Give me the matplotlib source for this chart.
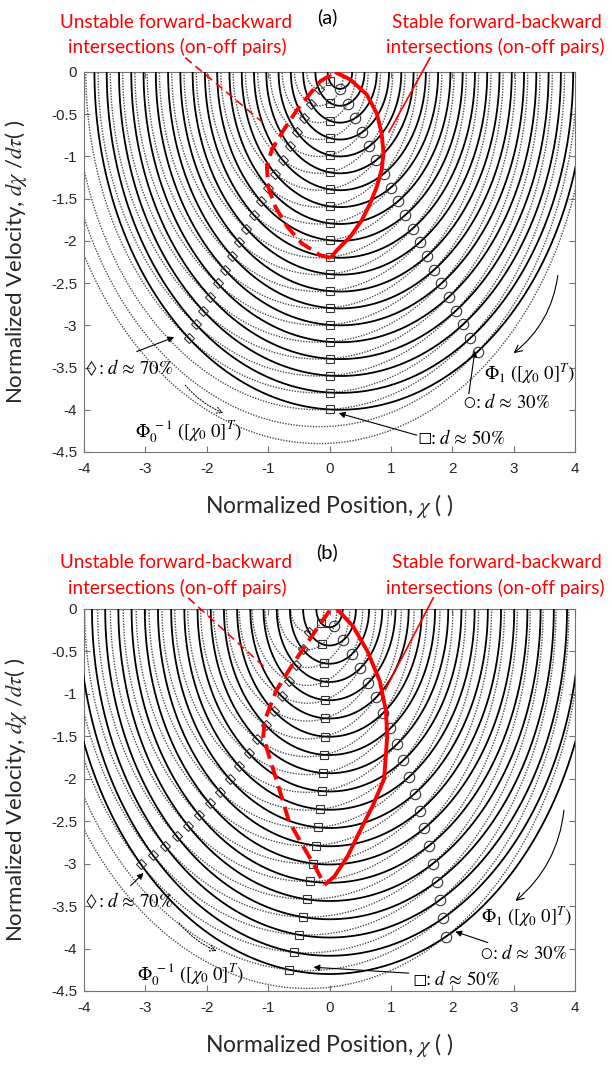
import numpy as np
import matplotlib
matplotlib.use("Agg")
import matplotlib.pyplot as plt
from matplotlib.patches import FancyArrowPatch

plt.rcParams["mathtext.fontset"] = "stix"
plt.rcParams["font.family"] = ["Liberation Sans", "DejaVu Sans"]

# ---------------- axis ticks ----------------
x_ticks = [-4, -3, -2, -1, 0, 1, 2, 3, 4]
x_tick_labels = ["-4", "-3", "-2", "-1", "0", "1", "2", "3", "4"]
y_ticks = [-4.5, -4, -3.5, -3, -2.5, -2, -1.5, -1, -0.5, 0]
y_tick_labels = ["-4.5", "-4", "-3.5", "-3", "-2.5", "-2", "-1.5", "-1", "-0.5", "0"]

# ---------------- panel (a) ----------------
# on-state (forward, Phi_1) and off-state (backward, Phi_0^-1) orbits
on_center_a = 0.17
off_center_a = -0.17
on_radius_a = [0.2, 0.4, 0.6, 0.8, 1.0, 1.2, 1.4, 1.6, 1.8, 2.0,
               2.2, 2.4, 2.6, 2.8, 3.0, 3.2, 3.4, 3.6, 3.8, 4.0]
off_radius_a = [0.2, 0.4, 0.6, 0.8, 1.0, 1.2, 1.4, 1.6, 1.8, 2.0, 2.2,
                2.4, 2.6, 2.8, 3.0, 3.2, 3.4, 3.6, 3.8, 4.0, 4.2, 4.4]

stable_a_x = [0.09, 0.34, 0.61, 0.77, 0.85, 0.88, 0.85, 0.77, 0.66, 0.53, 0.34, 0.12, 0.02]
stable_a_y = [0.0, -0.09, -0.27, -0.49, -0.73, -0.96, -1.16, -1.36, -1.56, -1.75, -1.95, -2.11, -2.2]
unstable_a_x = [0.01, -0.15, -0.31, -0.53, -0.75, -0.94, -1.02, -1.0, -0.88, -0.69, -0.45, -0.15, 0.02]
unstable_a_y = [-0.04, -0.11, -0.25, -0.45, -0.69, -0.92, -1.12, -1.36, -1.6, -1.83, -2.03, -2.17, -2.2]

# ---------------- panel (b) ----------------
on_center_b = 0.0
off_center_b = -0.36
on_radius_b = [0.215, 0.43, 0.645, 0.86, 1.075, 1.29, 1.505, 1.72, 1.935, 2.15,
               2.365, 2.58, 2.795, 3.01, 3.225, 3.44, 3.655, 3.87, 4.085, 4.3]
off_radius_b = [0.27, 0.48, 0.69, 0.90, 1.11, 1.32, 1.53, 1.74, 1.95, 2.16, 2.37,
                2.58, 2.79, 3.00, 3.21, 3.42, 3.63, 3.84, 4.05, 4.26, 4.47]

stable_b_x = [0.12, 0.38, 0.62, 0.82, 0.92, 0.94, 0.91, 0.89, 0.71, 0.5, 0.29, 0.08, -0.08]
stable_b_y = [0.0, -0.2, -0.5, -0.85, -1.2, -1.5, -1.8, -2.0, -2.31, -2.61, -2.92, -3.15, -3.25]
unstable_b_x = [0.0, -0.26, -0.59, -0.86, -1.05, -1.08, -0.97, -0.87, -0.66, -0.45, -0.24, -0.08]
unstable_b_y = [-0.02, -0.29, -0.64, -0.95, -1.30, -1.50, -1.77, -2.0, -2.5, -2.77, -3.03, -3.25]

# on-off pairing: which off-state orbit (index shift) crosses each on-state orbit
# for the three duty ratios d ~ 30 %, 50 %, 70 %
duty_pairs = [("o", 1, 7.5), ("s", 0, 6.2), ("D", -1, 5.4)]

RED = "#ff0000"
SANS = "Lato"
SERIF = "STIXGeneral"


def crossing(c_on, r_on, c_off, r_off):
    x = (r_on ** 2 - r_off ** 2 - c_on ** 2 + c_off ** 2) / (2.0 * (c_off - c_on))
    h = r_on ** 2 - (x - c_on) ** 2
    if h <= 0:
        return None
    return x, -np.sqrt(h)


def draw_panel(ax, on_c, on_r, off_c, off_r, sx, sy, ux, uy):
    th = np.linspace(0, np.pi, 600)
    for r in off_r:
        ax.plot(off_c + r * np.cos(th), -r * np.sin(th), color="0.3",
                lw=1.0, ls=(0, (1, 1)), zorder=2)
    for r in on_r:
        ax.plot(on_c + r * np.cos(th), -r * np.sin(th), color="k",
                lw=1.3, zorder=3)
    for mk, shift, ms in duty_pairs:
        px, py = [], []
        for i, r in enumerate(on_r):
            j = i + shift
            if 0 <= j < len(off_r):
                p = crossing(on_c, r, off_c, off_r[j])
                if p is not None:
                    px.append(p[0])
                    py.append(p[1])
        ax.plot(px, py, ls="none", marker=mk, mfc="none", mec="0.2",
                ms=ms, mew=0.8, zorder=4)
    ax.plot(sx, sy, color=RED, lw=2.8, solid_joinstyle="round",
            solid_capstyle="butt", zorder=5)
    ax.plot(ux, uy, color=RED, lw=2.8, ls=(0, (3.8, 1.8)), zorder=5)

    ax.set_xlim(-4, 4)
    ax.set_ylim(-4.5, 0)
    ax.set_xticks(x_ticks)
    ax.set_xticklabels(x_tick_labels)
    ax.set_yticks(y_ticks)
    ax.set_yticklabels(y_tick_labels)
    ax.tick_params(direction="in", top=True, right=True, length=4,
                   width=0.8, color="0.45", labelsize=11, labelcolor="#262626")
    ax.tick_params(axis="x", pad=7)
    ax.tick_params(axis="y", pad=5)
    for s in ax.spines.values():
        s.set_color("0.45")
        s.set_linewidth(0.8)
    ax.set_xlabel(r"Normalized Position, $\chi$ ( )", fontsize=16.5,
                  family=SANS, color="#262626")
    ax.set_ylabel(r"Normalized Velocity, $d\chi$ /$d\tau$( )", fontsize=16,
                  family=SANS, color="#262626")
    ax.xaxis.set_label_coords(0.5, -0.105)
    ax.yaxis.set_label_coords(-0.112, 0.5)


def arrow(ax, a, b, style="-|>", rad=0.0, ls="-", ms=9):
    ax.add_patch(FancyArrowPatch(a, b, arrowstyle=style, mutation_scale=ms,
                                 connectionstyle=f"arc3,rad={rad}", color="k",
                                 lw=0.8, linestyle=ls, shrinkA=0, shrinkB=0,
                                 zorder=6))


def duty_label(ax, x, y, symbol, rest):
    # small marker glyph followed by the duty text
    ax.text(x, y, symbol, family=SERIF, fontsize=10, ha="left", va="center",
            zorder=6)
    ax.annotate(rest, xy=(x, y), xytext=(8.5, 0), textcoords="offset points",
                family=SERIF, fontsize=13.5, ha="left", va="center", zorder=6)


def annotate_panel(ax, pos):
    duty_label(ax, -3.97, pos["dia_txt"], "\u25CA", ": $d$ \u2248 70%")
    arrow(ax, pos["dia_a"], pos["dia_b"])
    ax.text(pos["phi0_txt"][0], pos["phi0_txt"][1],
            r"$\Phi_0^{\ -1}\ ([\chi_0\ 0]^T)$", fontsize=13.5,
            ha="center", va="center", zorder=6)
    arrow(ax, pos["phi0_a"], pos["phi0_b"], style="->", rad=0.12, ls=":", ms=11)
    ax.text(pos["phi1_txt"][0], pos["phi1_txt"][1],
            r"$\Phi_1\ ([\chi_0\ 0]^T)$", fontsize=13.5,
            ha="right", va="center", zorder=6)
    arrow(ax, pos["phi1_a"], pos["phi1_b"], style="->", rad=-0.2, ms=13)
    duty_label(ax, pos["cir_txt"][0], pos["cir_txt"][1], "\u25CB", ": $d$ \u2248 30%")
    arrow(ax, pos["cir_a"], pos["cir_b"])
    duty_label(ax, pos["sq_txt"][0], pos["sq_txt"][1], "\u25A1", ": $d$ \u2248 50%")
    arrow(ax, pos["sq_a"], pos["sq_b"])


W, H = 612, 1072
fig = plt.figure(figsize=(W / 100, H / 100), dpi=100)
ax_a = fig.add_axes([84 / W, 1 - 452 / H, 491 / W, 380 / H])
ax_b = fig.add_axes([84 / W, 1 - 991 / H, 491 / W, 382 / H])

draw_panel(ax_a, on_center_a, on_radius_a, off_center_a, off_radius_a,
           stable_a_x, stable_a_y, unstable_a_x, unstable_a_y)
draw_panel(ax_b, on_center_b, on_radius_b, off_center_b, off_radius_b,
           stable_b_x, stable_b_y, unstable_b_x, unstable_b_y)

annotate_panel(ax_a, dict(
    dia_txt=-3.51, dia_a=(-3.14, -3.31), dia_b=(-2.53, -3.14),
    phi0_txt=(-2.3, -4.26), phi0_a=(-2.35, -3.71), phi0_b=(-1.73, -4.04),
    phi1_txt=(4.0, -3.57), phi1_a=(3.72, -2.41), phi1_b=(3.0, -3.33),
    cir_txt=(2.18, -3.91), cir_a=(2.27, -3.81), cir_b=(2.37, -3.3),
    sq_txt=(1.45, -4.34), sq_a=(1.42, -4.30), sq_b=(0.15, -4.04)))
annotate_panel(ax_b, dict(
    dia_txt=-3.45, dia_a=(-3.24, -3.26), dia_b=(-3.03, -3.11),
    phi0_txt=(-2.26, -4.31), phi0_a=(-2.45, -3.70), phi0_b=(-1.84, -4.03),
    phi1_txt=(3.95, -3.63), phi1_a=(3.82, -2.37), phi1_b=(3.03, -3.44),
    cir_txt=(2.45, -4.06), cir_a=(2.58, -3.93), cir_b=(2.05, -3.80),
    sq_txt=(1.37, -4.37), sq_a=(1.29, -4.29), sq_b=(-0.26, -4.22)))

# leader lines from the red captions
for ax, dash_a, dash_b, sol_a, sol_b in [
        (ax_a, (-2.35, 0.17), (-1.10, -0.59), (1.64, 0.17), (0.97, -0.71)),
        (ax_b, (-2.30, 0.13), (-1.05, -0.69), (1.69, 0.13), (0.91, -0.95))]:
    ax.plot([dash_a[0], dash_b[0]], [dash_a[1], dash_b[1]], color=RED, lw=1.2,
            ls=(0, (5, 3)), clip_on=False, zorder=6)
    ax.plot([sol_a[0], sol_b[0]], [sol_a[1], sol_b[1]], color=RED, lw=1.2,
            clip_on=False, zorder=6)

# panel titles and red captions
for tag, y_tag, y1, y2 in [("(a)", 17, 22, 47), ("(b)", 552, 562, 588)]:
    fig.text(327 / W, 1 - y_tag / H, tag, fontsize=14.5, family=SANS,
             ha="center", va="center", color="k")
    fig.text(176 / W, 1 - y1 / H, "Unstable forward-backward", fontsize=13.6,
             family=SANS, color=RED, ha="center", va="center")
    fig.text(177 / W, 1 - y2 / H, "intersections (on-off pairs)", fontsize=13.6,
             family=SANS, color=RED, ha="center", va="center")
    fig.text(497 / W, 1 - y1 / H, "Stable forward-backward", fontsize=13.6,
             family=SANS, color=RED, ha="center", va="center")
    fig.text(495 / W, 1 - y2 / H, "intersections (on-off pairs)", fontsize=13.6,
             family=SANS, color=RED, ha="center", va="center")

fig.savefig("out.png", dpi=100)
